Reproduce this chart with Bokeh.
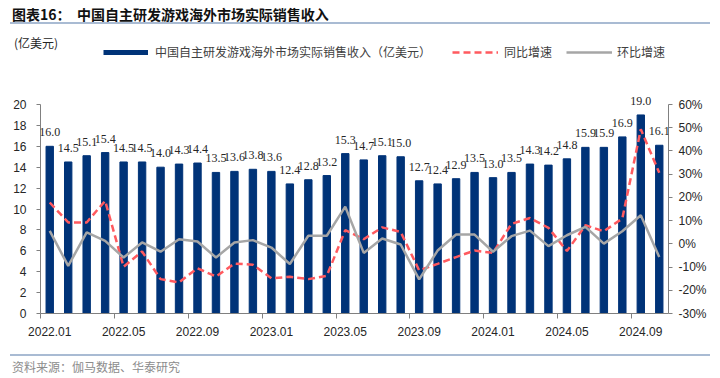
from bokeh.plotting import figure
from bokeh.layouts import column
from bokeh.models import (Range1d, LinearAxis, FixedTicker, LabelSet, ColumnDataSource,
                          PrintfTickFormatter, Legend, LegendItem, Div)
from bokeh.embed import file_html
from bokeh.resources import INLINE

months = ["2022.01", "2022.02", "2022.03", "2022.04", "2022.05", "2022.06", "2022.07", "2022.08",
          "2022.09", "2022.10", "2022.11", "2022.12", "2023.01", "2023.02", "2023.03", "2023.04",
          "2023.05", "2023.06", "2023.07", "2023.08", "2023.09", "2023.10", "2023.11", "2023.12",
          "2024.01", "2024.02", "2024.03", "2024.04", "2024.05", "2024.06", "2024.07", "2024.08",
          "2024.09", "2024.10"]
revenue = [16.0, 14.5, 15.1, 15.4, 14.5, 14.5, 14.0, 14.3, 14.4, 13.5, 13.6, 13.8, 13.6, 12.4,
           12.8, 13.2, 15.3, 14.7, 15.1, 15.0, 12.7, 12.4, 12.9, 13.5, 13.0, 13.5, 14.3, 14.2,
           14.8, 15.9, 15.9, 16.9, 19.0, 16.1]
yoy = [17.8, 9.2, 9.2, 18.5, -9.9, -3.3, -15.2, -16.6, -10.5, -14.1, -8.5, -9.0, -14.8, -14.2,
       -15.2, -13.8, 5.9, 2.0, 7.1, 5.1, -11.4, -8.6, -5.7, -2.9, -3.9, 8.6, 11.1, 6.9, -3.1,
       8.0, 5.4, 10.9, 49.3, 30.6]
mom = [5.6, -9.5, 4.9, 1.3, -5.9, 0.6, -3.4, 2.0, 1.0, -5.9, 0.6, 1.6, -1.6, -8.7, 3.5, 3.5,
       16.0, -3.9, 2.3, -0.3, -15.3, -2.9, 4.0, 4.0, -3.4, 3.3, 5.7, -1.0, 3.7, 7.3, 0.1, 5.4,
       12.3, -5.7]
tick_months = ["2022.01", "2022.05", "2022.09", "2023.01", "2023.05", "2023.09", "2024.01",
               "2024.05", "2024.09"]
left_ticks = [0, 2, 4, 6, 8, 10, 12, 14, 16, 18, 20]
right_ticks = [-30, -20, -10, 0, 10, 20, 30, 40, 50, 60]

title_text = "图表16：&nbsp;&nbsp;中国自主研发游戏海外市场实际销售收入"
unit_text = "(亿美元)"
source_text = "资料来源：伽马数据、华泰研究"
legend_labels = ["中国自主研发游戏海外市场实际销售收入（亿美元）", "同比增速", "环比增速"]

NUM_FONT = "Liberation Sans"
CJK_FONT = "Noto Sans CJK SC"
BAR_COLOR = "#003378"
RED = "#FF5A5F"
GRAY = "#A6A6A6"
RULE = "#A9BBD3"
TXT = "#262626"

W = 720
HEAD_H, MAIN_H, FOOT_H = 44, 299, 35
FRAME_TOP_PAD, FRAME_BOTTOM_PAD = 0, 30
PX_PER_UNIT = 10.45
frame_h = MAIN_H - FRAME_TOP_PAD - FRAME_BOTTOM_PAD
y_max = frame_h / PX_PER_UNIT
pct_max = -30 + 4.5 * y_max

# ---------- header (title, rule, unit) ----------
header = Div(width=W, height=HEAD_H, margin=0,
             styles={"overflow": "visible", "z-index": "5", "position": "relative"},
             text=f"""
<div style="position:relative;width:{W}px;height:{HEAD_H}px;font-family:'{CJK_FONT}';overflow:visible;">
  <div style="position:absolute;left:12px;top:5px;font-size:14px;line-height:18px;
              font-weight:bold;color:#111111;white-space:nowrap;">{title_text}</div>
  <div style="position:absolute;left:10px;top:21.5px;width:700px;height:2px;
              background:{RULE};"></div>
  <div style="position:absolute;left:14px;top:35px;font-size:12px;line-height:16px;
              color:{TXT};white-space:nowrap;">{unit_text}</div>
</div>""")

# ---------- main chart ----------
xs = list(range(len(months)))
src = ColumnDataSource(dict(x=xs, rev=revenue, yoy=yoy, mom=mom,
                            lbl=[f"{v:.1f}" for v in revenue]))

p = figure(width=W, height=MAIN_H, output_backend="svg", toolbar_location=None,
           x_range=Range1d(-0.5, len(months) - 0.5), y_range=Range1d(0, y_max),
           min_border_left=40, min_border_right=W - 668,
           min_border_top=FRAME_TOP_PAD, min_border_bottom=FRAME_BOTTOM_PAD)
p.outline_line_color = None
p.xgrid.visible = False
p.ygrid.visible = False
p.border_fill_color = None
p.background_fill_color = None
p.extra_y_ranges = {"pct": Range1d(-30, pct_max)}

bars = p.vbar(x="x", top="rev", width=0.4, color=BAR_COLOR, source=src)
l_yoy = p.line(x="x", y="yoy", line_color=RED, line_width=2.5, line_dash="7 4",
               y_range_name="pct", source=src)
l_mom = p.line(x="x", y="mom", line_color=GRAY, line_width=2.5, y_range_name="pct", source=src)
# legend key for the bars: a thick navy stroke whose only point is NaN (draws nothing)
bar_key = p.line(x=[float("nan")], y=[float("nan")], line_color=BAR_COLOR, line_width=5,
                 line_cap="butt")

p.add_layout(LabelSet(x="x", y="rev", text="lbl", source=src, text_align="center",
                      text_baseline="alphabetic", y_offset=10, text_font=NUM_FONT,
                      text_font_size="12px", text_color=TXT))

centers = [float(months.index(m)) for m in tick_months]
bounds_ticks = [c - 0.5 for c in centers]
xa = p.xaxis[0]
xa.ticker = FixedTicker(ticks=centers, minor_ticks=bounds_ticks)
xa.major_label_overrides = {c: m for c, m in zip(centers, tick_months)}
xa.major_tick_line_color = None
xa.major_tick_in = 0
xa.major_tick_out = 0
xa.minor_tick_in = 0
xa.minor_tick_out = 5
xa.minor_tick_line_color = "#808080"
xa.major_label_standoff = 8

ya = p.yaxis[0]
ya.ticker = FixedTicker(ticks=left_ticks)
ya.bounds = (0, 20)
ya.major_tick_in = 0
ya.major_tick_out = 4
ya.major_label_standoff = 10
ya.minor_tick_line_color = None
ya.major_tick_line_color = "#808080"

ra = LinearAxis(y_range_name="pct", ticker=FixedTicker(ticks=right_ticks),
                formatter=PrintfTickFormatter(format="%d%%"), bounds=(-30, 60))
ra.major_tick_in = 0
ra.major_tick_out = 4
ra.major_label_standoff = 6
ra.minor_tick_line_color = None
ra.major_tick_line_color = "#808080"
p.add_layout(ra, "right")

for ax in (xa, ya, ra):
    ax.axis_line_color = "#808080"
    ax.major_label_text_font = NUM_FONT
    ax.major_label_text_font_size = "12px"
    ax.major_label_text_color = TXT

# legends: one per item so each key sits where the reference has it
legend_y = frame_h - (52 - HEAD_H - FRAME_TOP_PAD) - 8
specs = [(legend_labels[0], bar_key, 103, 45, 7),
         (legend_labels[1], l_yoy, 452, 46, 6),
         (legend_labels[2], l_mom, 566, 46, 5)]
for lbl, rend, gx, gw, stand in specs:
    lg = Legend(items=[LegendItem(label=lbl, renderers=[rend])],
                location=(gx - 40, legend_y), orientation="horizontal",
                padding=0, margin=0, spacing=0, glyph_width=gw, glyph_height=16,
                label_height=16, label_standoff=stand, border_line_color=None,
                background_fill_alpha=0, label_text_font=CJK_FONT,
                label_text_font_size="12px", label_text_color="#404040")
    p.add_layout(lg, "center")

# ---------- footer (rule, source) ----------
footer = Div(width=W, height=FOOT_H, margin=0, text=f"""
<div style="position:relative;width:{W}px;height:{FOOT_H}px;font-family:'{CJK_FONT}';">
  <div style="position:absolute;left:10px;top:11px;width:700px;height:2px;
              background:{RULE};"></div>
  <div style="position:absolute;left:12px;top:16px;font-size:12px;line-height:16px;
              color:#8C8C8C;white-space:nowrap;">{source_text}</div>
</div>""")

layout = column(header, p, footer, spacing=0)
open("out.html", "w").write(file_html(layout, INLINE))
